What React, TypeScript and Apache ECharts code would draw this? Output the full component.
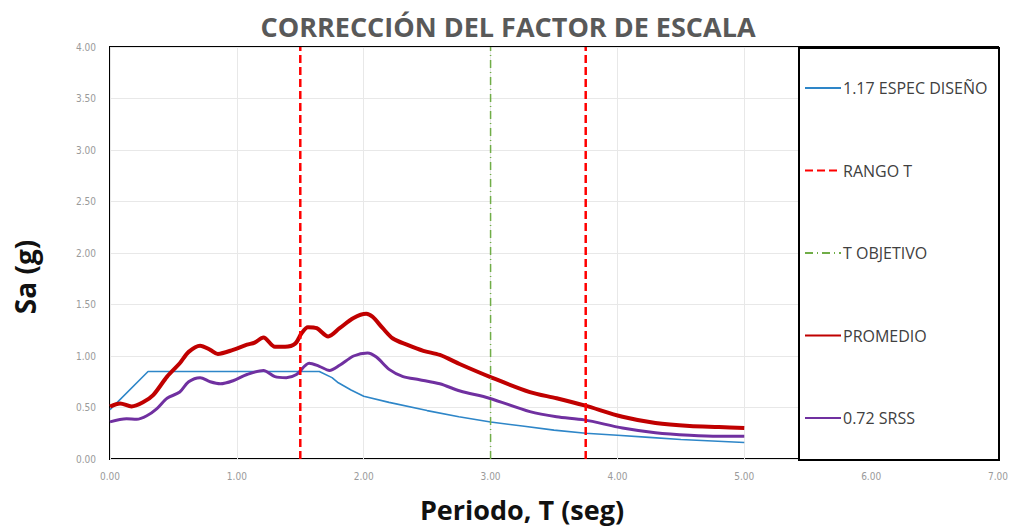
import React, { useEffect, useRef } from "react";
import * as echarts from "echarts";

const titleText = "CORRECCIÓN DEL FACTOR DE ESCALA";
const xName = "Periodo, T (seg)";
const yName = "Sa (g)";

const designT = [0, 0.3, 1.65, 1.75, 1.8, 1.9, 2.0, 2.2, 2.5, 2.75, 3.0, 3.25, 3.5, 3.75, 4.0, 4.25, 4.5, 4.75, 5.0];
const designSa = [0.48, 0.85, 0.85, 0.79, 0.74, 0.67, 0.61, 0.55, 0.47, 0.41, 0.36, 0.32, 0.28, 0.25, 0.23, 0.21, 0.19, 0.175, 0.16];

const avgT = [0, 0.08, 0.17, 0.26, 0.34, 0.45, 0.55, 0.62, 0.71, 0.79, 0.85, 0.97, 1.08, 1.14, 1.21, 1.3, 1.38, 1.46, 1.51, 1.56, 1.63, 1.72, 1.81, 1.92, 2.02, 2.07, 2.15, 2.23, 2.34, 2.47, 2.6, 2.76, 2.99, 3.31, 3.52, 3.74, 4.04, 4.3, 4.57, 4.8, 5.0];
const avgSa = [0.51, 0.54, 0.51, 0.55, 0.62, 0.8, 0.93, 1.04, 1.1, 1.06, 1.02, 1.06, 1.11, 1.13, 1.18, 1.09, 1.09, 1.12, 1.22, 1.28, 1.27, 1.19, 1.27, 1.37, 1.41, 1.38, 1.27, 1.17, 1.11, 1.05, 1.01, 0.92, 0.8, 0.65, 0.59, 0.52, 0.41, 0.35, 0.32, 0.31, 0.3];

const srssT = [0, 0.13, 0.21, 0.29, 0.37, 0.45, 0.55, 0.62, 0.71, 0.79, 0.87, 0.97, 1.08, 1.21, 1.3, 1.39, 1.47, 1.57, 1.65, 1.73, 1.81, 1.92, 2.03, 2.1, 2.2, 2.31, 2.44, 2.6, 2.76, 2.99, 3.31, 3.52, 3.74, 4.04, 4.3, 4.57, 4.8, 5.0];
const srssSa = [0.36, 0.39, 0.385, 0.42, 0.49, 0.59, 0.65, 0.75, 0.79, 0.75, 0.73, 0.76, 0.82, 0.86, 0.8, 0.79, 0.82, 0.93, 0.9, 0.86, 0.91, 1.0, 1.03, 0.99, 0.87, 0.8, 0.77, 0.73, 0.66, 0.59, 0.46, 0.41, 0.38, 0.3, 0.255, 0.23, 0.22, 0.22];

const rangeT = [1.5, 3.75];
const targetT = [3.0];
const lineSa = [0, 4];

const xTicks = [0, 7, 1];
const yTicks = [0, 4, 0.5];

const legendNames = ["1.17 ESPEC DISEÑO", "RANGO T", "T OBJETIVO", "PROMEDIO", "0.72 SRSS"];

const zip = (xs: number[], ys: number[]) => xs.map((x, i) => [x, ys[i]]);

export default function App() {
  const ref = useRef<HTMLDivElement>(null);
  useEffect(() => {
    const chart = echarts.init(ref.current!, null, { renderer: "svg" });
    const vertical = (t: number) => lineSa.map((s) => [t, s]);
    chart.setOption({
      animation: false,
      backgroundColor: "#ffffff",
      textStyle: { fontFamily: "Open Sans, sans-serif" },
      grid: {
        left: 110,
        top: 47,
        right: 15,
        bottom: 70,
        show: true,
        borderColor: "#000000",
        borderWidth: 2,
        backgroundColor: "transparent",
      },
      xAxis: {
        type: "value",
        min: xTicks[0],
        max: xTicks[1],
        interval: xTicks[2],
        axisLine: { show: false },
        axisTick: { show: false },
        axisLabel: {
          margin: 12,
          color: "#9a9a9a",
          fontSize: 10,
          fontFamily: "DejaVu Sans Condensed, Liberation Sans Narrow, sans-serif",
          formatter: (v: number) => v.toFixed(2),
        },
        splitLine: { show: true, lineStyle: { color: "#e8e8e8", width: 1 } },
      },
      yAxis: {
        type: "value",
        min: yTicks[0],
        max: yTicks[1],
        interval: yTicks[2],
        axisLine: { show: false },
        axisTick: { show: false },
        axisLabel: {
          margin: 14,
          color: "#9a9a9a",
          fontSize: 10,
          fontFamily: "DejaVu Sans Condensed, Liberation Sans Narrow, sans-serif",
          formatter: (v: number) => v.toFixed(2),
        },
        splitLine: { show: true, lineStyle: { color: "#e8e8e8", width: 1 } },
      },
      legend: {
        data: legendNames,
        orient: "vertical",
        left: 804,
        top: 80,
        padding: 0,
        itemWidth: 36,
        itemHeight: 16,
        itemGap: 66.5,
        z: 60,
        itemStyle: { opacity: 0 },
        textStyle: { color: "#404040", fontSize: 16, fontFamily: "Open Sans, sans-serif", padding: [0, 0, 0, -3] },
        selectedMode: false,
      },
      graphic: [
        {
          type: "rect",
          left: 798,
          top: 47,
          shape: { width: 200, height: 412 },
          style: { fill: "#ffffff", stroke: "#000000", lineWidth: 2 },
          z: 50,
        },
        {
          type: "text",
          x: 508,
          y: 26,
          style: { text: titleText, fill: "#595959", font: "bold 27px 'Open Sans', sans-serif", align: "center", verticalAlign: "middle" },
        },
        {
          type: "text",
          x: 522,
          y: 509,
          style: { text: xName, fill: "#111111", font: "bold 27px 'Open Sans', sans-serif", align: "center", verticalAlign: "middle" },
        },
        {
          type: "text",
          x: 25,
          y: 277,
          rotation: Math.PI / 2,
          style: { text: yName, fill: "#111111", font: "bold 28px 'Open Sans', sans-serif", align: "center", verticalAlign: "middle" },
        },
      ],
      series: [
        {
          name: legendNames[0],
          type: "line",
          data: zip(designT, designSa),
          symbol: "none",
          lineStyle: { color: "#2E86C8", width: 1.6 },
          itemStyle: { color: "#2E86C8" },
        },
        {
          name: legendNames[4],
          type: "line",
          data: zip(srssT, srssSa),
          symbol: "none",
          smooth: 0.3,
          lineStyle: { color: "#7030A0", width: 3 },
          itemStyle: { color: "#7030A0" },
        },
        {
          name: legendNames[3],
          type: "line",
          data: zip(avgT, avgSa),
          symbol: "none",
          smooth: 0.3,
          lineStyle: { color: "#C00000", width: 4 },
          itemStyle: { color: "#C00000" },
        },
        {
          name: legendNames[2],
          type: "line",
          data: vertical(targetT[0]),
          symbol: "none",
          lineStyle: { color: "#70AD47", width: 1.5, type: [8, 4, 1, 4] },
          itemStyle: { color: "#70AD47" },
        },
        ...rangeT.map((t) => ({
          name: legendNames[1],
          type: "line",
          data: vertical(t),
          symbol: "none",
          lineStyle: { color: "#FF0000", width: 2.5, type: [8, 4] },
          itemStyle: { color: "#FF0000" },
        })),
      ],
    });
    return () => chart.dispose();
  }, []);
  return <div ref={ref} style={{ position: "absolute", left: 0, top: 0, width: 1013, height: 529 }} />;
}
